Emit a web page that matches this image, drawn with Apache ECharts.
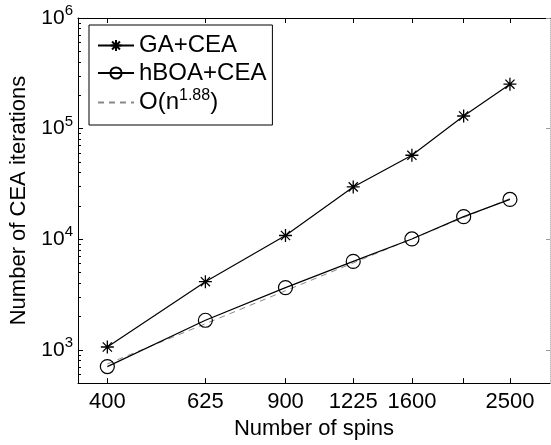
<!DOCTYPE html>
<html>
<head>
<meta charset="utf-8">
<script src="https://cdn.jsdelivr.net/npm/echarts@6/dist/echarts.min.js"></script>
<style>
html,body{margin:0;padding:0;background:#fff;}
#c{width:551px;height:445px;}
</style>
</head>
<body>
<div id="c"></div>
<script>
var spins = [400, 625, 900, 1225, 1600, 2025, 2500];
var xTickLabels = [400, 625, 900, 1225, 1600, 2500];
var gaCEA = [1060, 4130, 10800, 29700, 57400, 130000, 252000];
var hboaCEA = [705, 1850, 3650, 6300, 10050, 16000, 22900];
var fitN188 = [745, 1720, 3420, 6100, 10100, 15700, 23300];
var yMajor = [1000, 10000, 100000, 1000000];
var yMinor = [500,600,700,800,900,2000,3000,4000,5000,6000,7000,8000,9000,
  20000,30000,40000,50000,60000,70000,80000,90000,
  200000,300000,400000,500000,600000,700000,800000,900000];
var seriesNames = ['GA+CEA', 'hBOA+CEA', 'O(n^1.88)'];

var FONT = 'Liberation Sans, Arial, Helvetica, sans-serif';
var chart = echarts.init(document.getElementById('c'), null, {renderer: 'canvas'});

function pairs(xs, ys) { return xs.map(function (x, i) { return [x, ys[i]]; }); }

var starPath = 'path://M0,-10L0,10M-10,0L10,0M-7.07,-7.07L7.07,7.07M-7.07,7.07L7.07,-7.07';

var supRich = {
  b: {fontSize: 21, fontFamily: FONT, color: '#000', lineHeight: 24},
  s: {fontSize: 15, fontFamily: FONT, color: '#000', padding: [0, 0, 14, 0]}
};

var xCommon = {
  type: 'log', min: 350, max: 3000,
  axisLine: {show: true, lineStyle: {color: '#000', width: 1}},
  splitLine: {show: false}, minorTick: {show: false}
};

var option = {
  animation: false,
  backgroundColor: '#fff',
  grid: {left: 78, top: 18, right: 1, bottom: 57, containLabel: false},
  xAxis: [
    Object.assign({}, xCommon, {
      position: 'bottom',
      name: 'Number of spins', nameLocation: 'middle', nameGap: 31,
      nameTextStyle: {fontSize: 22, fontFamily: FONT, color: '#000'},
      axisTick: {show: true, inside: true, length: 5, lineStyle: {color: '#000'}, customValues: spins},
      axisLabel: {show: true, margin: 8, fontSize: 22, fontFamily: FONT, color: '#000', customValues: xTickLabels,
        formatter: function (v) { return String(Math.round(v)); }}
    }),
    Object.assign({}, xCommon, {
      position: 'top',
      axisTick: {show: true, inside: true, length: 5, lineStyle: {color: '#000'}, customValues: spins},
      axisLabel: {show: false}
    })
  ],
  yAxis: [
    {
      type: 'log', min: 500, max: 1000000, position: 'left',
      name: 'Number of CEA iterations', nameLocation: 'middle', nameGap: 46, nameRotate: 90,
      nameTextStyle: {fontSize: 22, fontFamily: FONT, color: '#000'},
      axisLine: {show: true, lineStyle: {color: '#000', width: 1}},
      axisTick: {show: true, inside: true, length: 5, lineStyle: {color: '#000'}, customValues: yMajor},
      axisLabel: {show: true, margin: 5, customValues: yMajor,
        formatter: function (v) {
          var e = Math.round(Math.log10(v));
          return '{b|10}{s|' + e + '}';
        },
        rich: supRich},
      splitLine: {show: false}, minorTick: {show: false}
    },
    {
      type: 'log', min: 500, max: 1000000, position: 'left',
      axisLine: {show: false},
      axisTick: {show: true, inside: true, length: 3, lineStyle: {color: '#000'}, customValues: yMinor},
      axisLabel: {show: false},
      splitLine: {show: false}
    },
    {
      type: 'log', min: 500, max: 1000000, position: 'right',
      axisLine: {show: true, lineStyle: {color: '#bbb', width: 1, type: 'dotted'}},
      axisTick: {show: true, inside: true, length: 4, lineStyle: {color: '#999'}, customValues: yMajor},
      axisLabel: {show: false},
      splitLine: {show: false}
    }
  ],
  legend: {
    orient: 'vertical', left: 89, top: 25,
    data: [
      {name: seriesNames[0]},
      {name: seriesNames[1]},
      {name: seriesNames[2], itemStyle: {opacity: 0}}
    ],
    itemWidth: 36, itemHeight: 14, itemGap: 2.5,
    padding: [8, 6, 10, 8],
    borderColor: '#000', borderWidth: 1, backgroundColor: '#fff',
    textStyle: {fontSize: 24, fontFamily: FONT, color: '#000', lineHeight: 25, rich: {
      a: {fontSize: 24, fontFamily: FONT, color: '#000', lineHeight: 25},
      s: {fontSize: 16, fontFamily: FONT, color: '#000', padding: [0, 0, 13, 0]}
    }},
    formatter: function (name) {
      if (name === 'O(n^1.88)') return '{a|O(n}{s|1.88}{a|)}';
      return name;
    }
  },
  series: [
    {
      name: seriesNames[0], type: 'line', xAxisIndex: 0, yAxisIndex: 0,
      data: pairs(spins, gaCEA),
      symbol: starPath, symbolSize: 13,
      color: '#000',
      lineStyle: {color: '#000', width: 1.2},
      itemStyle: {color: 'none', borderColor: '#000', borderWidth: 1.3},
      z: 3
    },
    {
      name: seriesNames[1], type: 'line', xAxisIndex: 0, yAxisIndex: 0,
      data: pairs(spins, hboaCEA),
      symbol: 'circle', symbolSize: 14,
      color: '#000',
      lineStyle: {color: '#000', width: 1.2},
      itemStyle: {color: 'none', borderColor: '#000', borderWidth: 1.2},
      z: 3
    },
    {
      name: seriesNames[2], type: 'line', xAxisIndex: 0, yAxisIndex: 0,
      data: pairs(spins, fitN188),
      symbol: 'none', showSymbol: false,
      color: '#888',
      lineStyle: {color: '#888', width: 1, type: [6, 5]},
      z: 2
    }
  ]
};
chart.setOption(option);
</script>
</body>
</html>
